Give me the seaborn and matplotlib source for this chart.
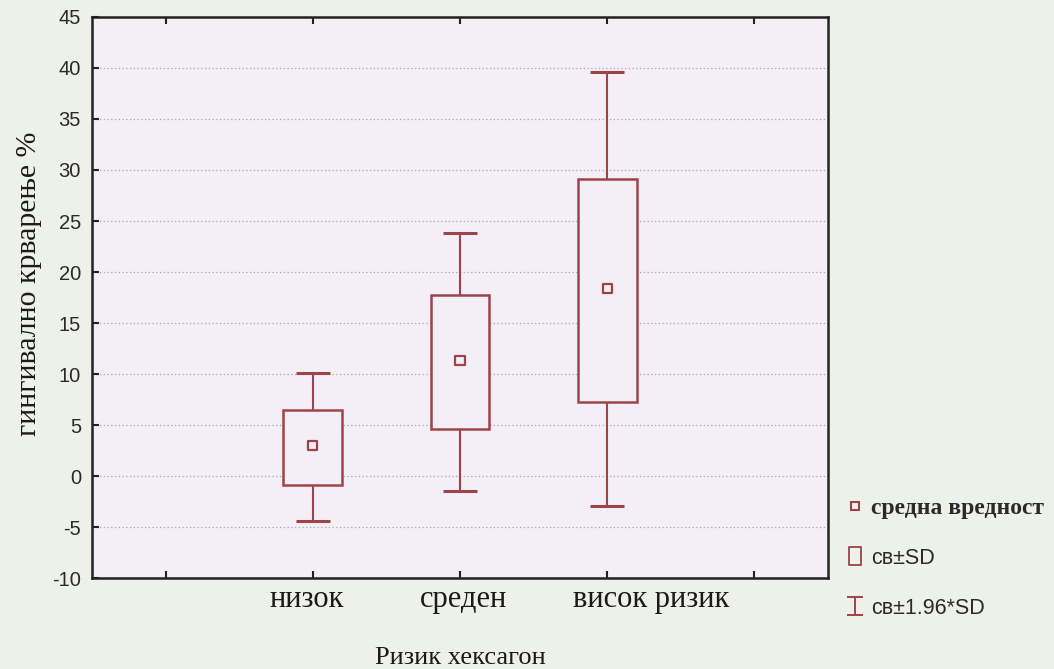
import numpy as np
import pandas as pd
import seaborn as sns
import matplotlib.pyplot as plt
from matplotlib.lines import Line2D
from matplotlib.path import Path
from matplotlib.transforms import ScaledTranslation

categories = ['низок', 'среден', 'висок ризик']
means = [3.0, 11.3, 18.4]
sd_low = [-0.9, 4.6, 7.3]
sd_high = [6.5, 17.7, 29.1]
ci_low = [-4.4, -1.5, -2.9]
ci_high = [10.1, 23.8, 39.6]
yticks = list(range(-10, 50, 5))

red = '#9c4448'
axbg = '#f4eff6'
figbg = '#eef0ea'

sns.set_theme(style='ticks')
plt.rcParams['font.family'] = ['Liberation Sans', 'DejaVu Sans']
plt.rcParams['axes.unicode_minus'] = False

df = pd.DataFrame({'group': categories, 'mean': means, 'sd_low': sd_low, 'sd_high': sd_high,
                   'ci_low': ci_low, 'ci_high': ci_high})
df['pos'] = np.arange(1, len(categories) + 1)

fig = plt.figure(figsize=(10.54, 6.69), dpi=100, facecolor=figbg)
ax = fig.add_axes([0.0873, 0.136, 0.6983, 0.8386])
ax.set_facecolor(axbg)

# whiskers: mean +- 1.96 SD
ax.errorbar(df['pos'], df['mean'],
            yerr=[df['mean'] - df['ci_low'], df['ci_high'] - df['mean']],
            fmt='none', ecolor=red, elinewidth=1.5, capsize=12.5, capthick=2.2, zorder=2)
# boxes: mean +- SD
ax.bar(df['pos'], df['sd_high'] - df['sd_low'], bottom=df['sd_low'], width=0.4,
       facecolor=axbg, edgecolor=red, linewidth=1.8, zorder=3)
# means
sns.scatterplot(data=df, x='pos', y='mean', marker='s', s=45, facecolor='none',
                edgecolor=red, linewidth=1.6, zorder=4, ax=ax, legend=False)

ax.set_xlim(-0.5, 4.5)
ax.set_ylim(-10, 45)
ax.set_yticks(yticks)
ax.set_xticks(range(0, 5))
ax.set_xticklabels([''] + categories + [''], family='Liberation Serif', fontsize=22, color='#1a1a1a')
for t in ax.get_yticklabels():
    t.set_fontsize(14.5)
    t.set_color('#2a2a2a')
ax.yaxis.grid(True, linestyle=(0, (1, 2)), color='#aaa5ae', linewidth=0.9)
ax.tick_params(axis='both', direction='in', length=5, width=1.5, color='#222', top=True)
ax.tick_params(axis='x', pad=5)
ax.tick_params(axis='y', pad=8)
for s in ax.spines.values():
    s.set_color('#222')
    s.set_linewidth(1.8)

# the original labels sit a little off their ticks
shifts = [0, -6, 3, 44, 0]
for lab, dx in zip(ax.get_xticklabels(), shifts):
    lab.set_transform(lab.get_transform() + ScaledTranslation(dx / 100, 0, fig.dpi_scale_trans))

ax.set_xlabel('Ризик хексагон', family='Liberation Serif', fontsize=19, color='#1a1a1a', labelpad=24)
ax.set_ylabel('гингивално крварење %', family='Liberation Serif', fontsize=21.5, color='#1a1a1a')
ax.yaxis.set_label_coords(-0.068, 0.525)

# legend glyphs
ibeam = Path([(-0.9, -1), (0.9, -1), (0, -1), (0, 1), (-0.9, 1), (0.9, 1)],
             [Path.MOVETO, Path.LINETO, Path.MOVETO, Path.LINETO, Path.MOVETO, Path.LINETO])
rect = Path([(-0.7, -1), (0.7, -1), (0.7, 1), (-0.7, 1), (-0.7, -1)],
            [Path.MOVETO, Path.LINETO, Path.LINETO, Path.LINETO, Path.CLOSEPOLY])
h_mean = Line2D([], [], linestyle='none', marker='s', markersize=5.5, markerfacecolor='none',
                markeredgecolor=red, markeredgewidth=1.5)
h_box = Line2D([], [], linestyle='none', marker=rect, markersize=13, markerfacecolor='none',
               markeredgecolor=red, markeredgewidth=1.3)
h_ci = Line2D([], [], linestyle='none', marker=ibeam, markersize=13, markerfacecolor='none',
              markeredgecolor=red, markeredgewidth=1.4)
leg = fig.legend([h_mean, h_box, h_ci], ['средна вредност', 'св±SD', 'св±1.96*SD'],
                 loc='upper left', bbox_to_anchor=(0.8036, 0.256), frameon=False, borderpad=0,
                 borderaxespad=0, labelspacing=1.35, handlelength=0.7, handletextpad=0.4,
                 fontsize=15.5)
leg.get_texts()[0].set_family('Liberation Serif')
leg.get_texts()[0].set_fontsize(17)
leg.get_texts()[0].set_fontweight('bold')
for t in leg.get_texts():
    t.set_color('#2a2a2a')

fig.savefig('out.png', dpi=100, facecolor=figbg)
